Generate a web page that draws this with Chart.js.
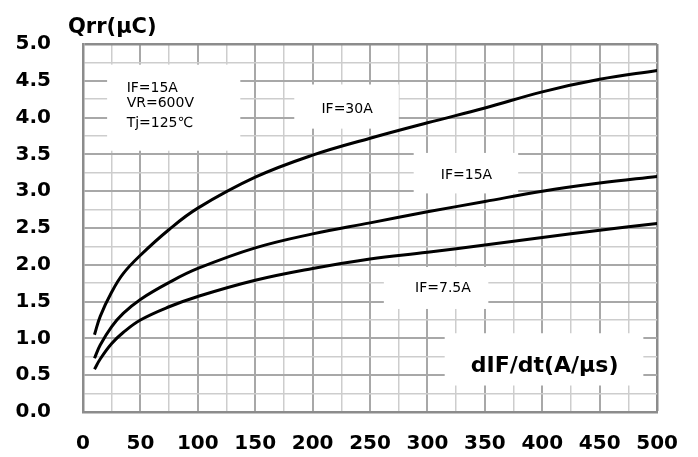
<!DOCTYPE html>
<html>
<head>
<meta charset="utf-8">
<script src="https://cdn.jsdelivr.net/npm/chart.js@4"></script>
<style>
  body { margin: 0; background: #fff; }
  canvas { display: block; }
</style>
</head>
<body>
<canvas id="qrrChart" width="698" height="457"></canvas>
<script>
// dIF/dt (A/us) where the curves were read
const didt = [10, 15, 25, 35, 50, 75, 100, 150, 200, 250, 300, 350, 400, 450, 500];

// Qrr (uC) for each forward current
const qrr30 = [1.05, 1.30, 1.63, 1.88, 2.13, 2.48, 2.77, 3.19, 3.49, 3.72, 3.93, 4.13, 4.35, 4.52, 4.64];
const qrr15 = [0.73, 0.91, 1.16, 1.34, 1.53, 1.76, 1.95, 2.23, 2.42, 2.57, 2.72, 2.86, 3.00, 3.11, 3.20];
const qrr75 = [0.58, 0.72, 0.93, 1.08, 1.25, 1.43, 1.57, 1.79, 1.95, 2.08, 2.17, 2.27, 2.37, 2.47, 2.56];

const seriesLabels = ['IF=30A', 'IF=15A', 'IF=7.5A'];

// white label boxes (in axis units) that hide the grid
const noteBoxes = [
    { x0: 21, x1: 137, y0: 3.55, y1: 4.72 },
    { x0: 184, x1: 275, y0: 3.85, y1: 4.45 },
    { x0: 288, x1: 379, y0: 2.97, y1: 3.52 },
    { x0: 262, x1: 353, y0: 1.40, y1: 1.97 },
    { x0: 315, x1: 488, y0: 0.36, y1: 1.07 }
];

const noteTexts = [
    { text: 'IF=15A', x: 38, y: 4.35, align: 'left' },
    { text: 'VR=600V', x: 38, y: 4.14, align: 'left' },
    { text: 'Tj=125℃', x: 38, y: 3.87, align: 'left' },
    { text: 'IF=30A', x: 230, y: 4.06 },
    { text: 'IF=15A', x: 334, y: 3.165 },
    { text: 'IF=7.5A', x: 313.5, y: 1.63 },
    { text: 'dIF/dt(A/μs)', x: 402, y: 0.545, bold: true }
];

const frameColor = '#8c8c8c';
const majorColor = '#a8a8a8';
const minorColor = '#cdcdcd';

const toPoints = values => values.map((v, i) => ({ x: didt[i], y: v }));

const notesPlugin = {
    id: 'notes',
    beforeDatasetsDraw(chart) {
        const { ctx, scales: { x, y } } = chart;
        ctx.save();
        ctx.fillStyle = '#fff';
        noteBoxes.forEach(b => {
            const left = x.getPixelForValue(b.x0);
            const right = x.getPixelForValue(b.x1);
            const top = y.getPixelForValue(b.y1);
            const bottom = y.getPixelForValue(b.y0);
            ctx.fillRect(left, top, right - left, bottom - top);
        });
        ctx.fillStyle = '#000';
        ctx.textBaseline = 'alphabetic';
        noteTexts.forEach(t => {
            ctx.font = t.bold ? 'bold 22px "DejaVu Sans"' : '14px "DejaVu Sans"';
            ctx.textAlign = t.align || 'center';
            ctx.fillText(t.text, x.getPixelForValue(t.x), y.getPixelForValue(t.y));
        });
        ctx.restore();
    },
    afterDraw(chart) {
        const { ctx, chartArea } = chart;
        ctx.save();
        ctx.fillStyle = '#000';
        ctx.font = 'bold 21px "DejaVu Sans"';
        ctx.textAlign = 'left';
        ctx.textBaseline = 'alphabetic';
        ctx.fillText('Qrr(μC)', chartArea.left - 15, chartArea.top - 11);
        ctx.restore();
    }
};

const isMajor = (v, major) => Math.abs(v / major - Math.round(v / major)) < 1e-6;
const gridColor = (ctx, max, major) => {
    const v = ctx.tick.value;
    if (v === max) return frameColor;
    return isMajor(v, major) ? majorColor : minorColor;
};
const gridWidth = (ctx, max, major) => {
    const v = ctx.tick.value;
    if (v === max) return 2.5;
    return isMajor(v, major) ? 2 : 1.5;
};

const chart = new Chart(document.getElementById('qrrChart'), {
    type: 'line',
    data: {
        datasets: [qrr30, qrr15, qrr75].map((vals, i) => ({
            label: seriesLabels[i],
            data: toPoints(vals),
            borderColor: '#000',
            borderWidth: 3,
            pointRadius: 0,
            tension: 0.4,
            fill: false
        }))
    },
    options: {
        responsive: false,
        animation: false,
        layout: { padding: { top: 43, right: 39, left: 0, bottom: 0 } },
        plugins: {
            legend: { display: false },
            tooltip: { enabled: false }
        },
        scales: {
            x: {
                type: 'linear',
                min: 0,
                max: 500,
                afterFit: scale => { scale.height = 45; },
                grid: {
                    drawTicks: false,
                    color: ctx => gridColor(ctx, 500, 50),
                    lineWidth: ctx => gridWidth(ctx, 500, 50)
                },
                border: { color: frameColor, width: 2.5 },
                ticks: {
                    stepSize: 25,
                    maxTicksLimit: 100,
                    autoSkip: false,
                    maxRotation: 0,
                    padding: 20,
                    color: '#000',
                    font: { family: 'DejaVu Sans', size: 20, weight: 'bold' },
                    callback: v => (v % 50 === 0 ? String(v) : '')
                }
            },
            y: {
                min: 0,
                max: 5,
                afterFit: scale => { scale.width = 83; },
                grid: {
                    drawTicks: false,
                    color: ctx => gridColor(ctx, 5, 0.5),
                    lineWidth: ctx => gridWidth(ctx, 5, 0.5)
                },
                border: { color: frameColor, width: 2.5 },
                ticks: {
                    stepSize: 0.25,
                    maxTicksLimit: 100,
                    autoSkip: false,
                    padding: 32,
                    color: '#000',
                    font: { family: 'DejaVu Sans', size: 20, weight: 'bold' },
                    callback: v => (isMajor(v, 0.5) ? v.toFixed(1) : '')
                }
            }
        }
    },
    plugins: [notesPlugin]
});
</script>
</body>
</html>
